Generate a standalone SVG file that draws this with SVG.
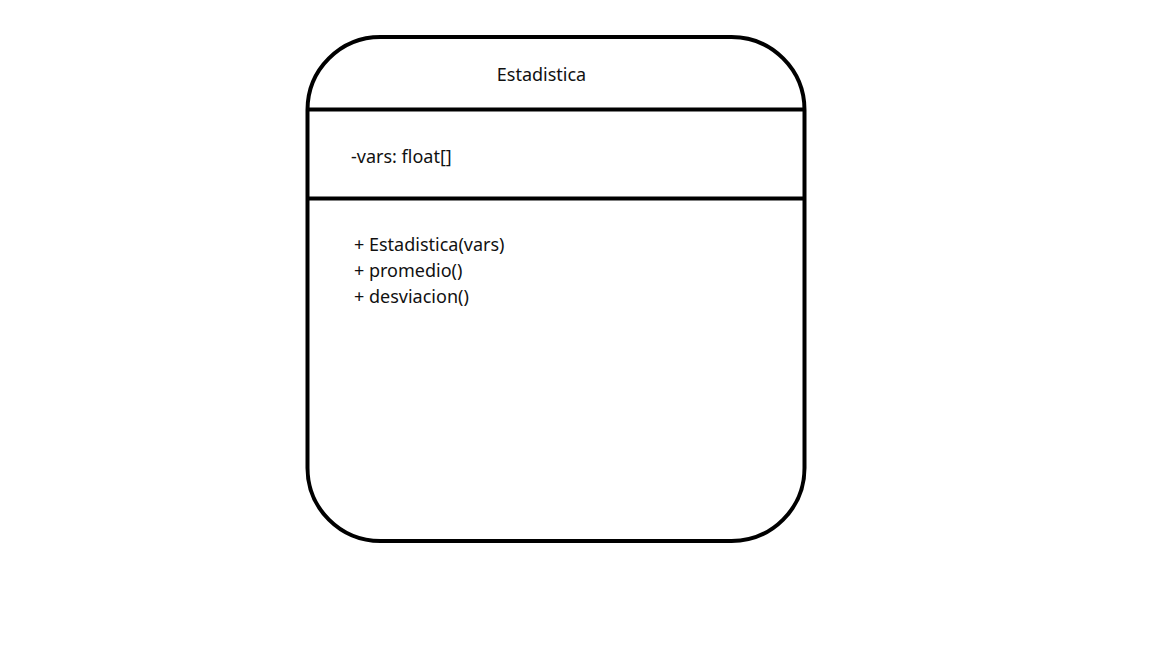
<svg xmlns="http://www.w3.org/2000/svg" width="1152" height="648" viewBox="0 0 1152 648">
<style>
.box{fill:#fff;stroke:#000;stroke-width:4}
.sep{stroke:#000;stroke-width:4}
text{font-family:"Noto Sans","Open Sans","Liberation Sans",sans-serif;font-size:18px;fill:#111}
</style>
<rect width="1152" height="648" fill="#fff"/>
<g id="class-Estadistica">
<rect class="box" x="307.5" y="37" width="497" height="504" rx="73" ry="73"/>
<line class="sep" x1="307.5" y1="109.5" x2="804.5" y2="109.5"/>
<line class="sep" x1="307.5" y1="198.5" x2="804.5" y2="198.5"/>
<text x="541.5" y="81" text-anchor="middle">Estadistica</text>
<text x="351" y="163">-vars: float[]</text>
<text x="354" y="251">+ Estadistica(vars)</text>
<text x="354" y="277">+ promedio()</text>
<text x="354" y="303">+ desviacion()</text>
</g>
</svg>
